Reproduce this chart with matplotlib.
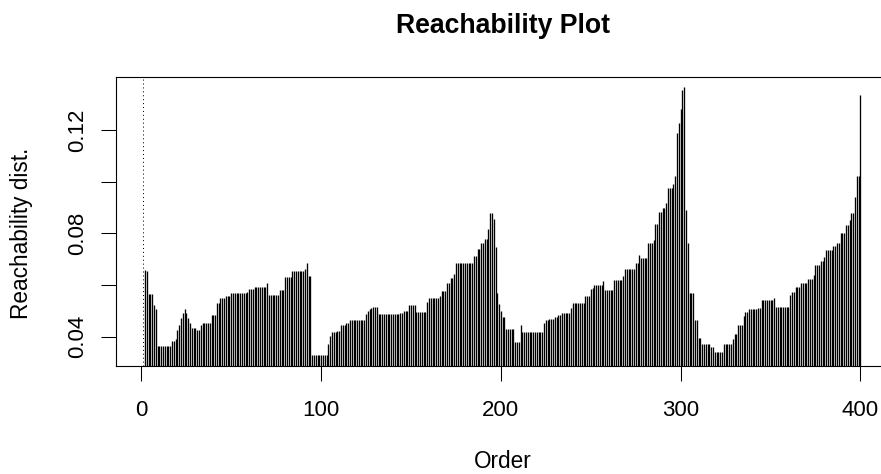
import numpy as np
import matplotlib
matplotlib.use("Agg")
import matplotlib.pyplot as plt

plt.rcParams['font.family'] = ['Liberation Sans', 'DejaVu Sans']

inf = np.inf
# Reachability distances in OPTICS order (index 1..400); first point is undefined (Inf)
reach_001_100 = [
    inf, 0.0660, 0.0655, 0.0567, 0.0567, 0.0567, 0.0524, 0.0506, 0.0364, 0.0364,
    0.0364, 0.0364, 0.0364, 0.0364, 0.0364, 0.0364, 0.0383, 0.0383, 0.0390, 0.0426,
    0.0444, 0.0474, 0.0493, 0.0506, 0.0493, 0.0474, 0.0454, 0.0435, 0.0435, 0.0435,
    0.0425, 0.0425, 0.0444, 0.0454, 0.0454, 0.0454, 0.0454, 0.0454, 0.0483, 0.0483,
    0.0483, 0.0532, 0.0532, 0.0551, 0.0551, 0.0551, 0.0558, 0.0558, 0.0558, 0.0568,
    0.0568, 0.0568, 0.0568, 0.0568, 0.0568, 0.0568, 0.0568, 0.0568, 0.0573, 0.0584,
    0.0584, 0.0584, 0.0592, 0.0592, 0.0592, 0.0592, 0.0592, 0.0592, 0.0592, 0.0607,
    0.0560, 0.0560, 0.0560, 0.0560, 0.0560, 0.0560, 0.0581, 0.0581, 0.0581, 0.0630,
    0.0630, 0.0630, 0.0630, 0.0654, 0.0654, 0.0654, 0.0654, 0.0654, 0.0654, 0.0654,
    0.0663, 0.0684, 0.0635, 0.0635, 0.0328, 0.0328, 0.0328, 0.0328, 0.0328, 0.0328,
]
reach_101_200 = [
    0.0328, 0.0328, 0.0328, 0.0373, 0.0405, 0.0418, 0.0418, 0.0418, 0.0422, 0.0422,
    0.0444, 0.0444, 0.0444, 0.0452, 0.0452, 0.0465, 0.0465, 0.0465, 0.0465, 0.0465,
    0.0465, 0.0465, 0.0465, 0.0465, 0.0487, 0.0499, 0.0506, 0.0512, 0.0516, 0.0516,
    0.0516, 0.0489, 0.0489, 0.0489, 0.0489, 0.0489, 0.0489, 0.0489, 0.0489, 0.0489,
    0.0489, 0.0489, 0.0489, 0.0493, 0.0493, 0.0499, 0.0499, 0.0499, 0.0524, 0.0524,
    0.0524, 0.0524, 0.0496, 0.0496, 0.0496, 0.0496, 0.0496, 0.0496, 0.0534, 0.0551,
    0.0551, 0.0551, 0.0551, 0.0551, 0.0551, 0.0558, 0.0577, 0.0577, 0.0577, 0.0609,
    0.0609, 0.0626, 0.0626, 0.0644, 0.0684, 0.0684, 0.0684, 0.0684, 0.0684, 0.0684,
    0.0684, 0.0684, 0.0684, 0.0684, 0.0712, 0.0712, 0.0738, 0.0738, 0.0761, 0.0761,
    0.0777, 0.0777, 0.0816, 0.0880, 0.0880, 0.0857, 0.0748, 0.0570, 0.0528, 0.0499,
]
reach_201_300 = [
    0.0477, 0.0477, 0.0431, 0.0431, 0.0431, 0.0431, 0.0431, 0.0379, 0.0379, 0.0379,
    0.0444, 0.0418, 0.0418, 0.0418, 0.0418, 0.0418, 0.0418, 0.0418, 0.0418, 0.0418,
    0.0418, 0.0418, 0.0418, 0.0454, 0.0465, 0.0465, 0.0467, 0.0467, 0.0467, 0.0477,
    0.0477, 0.0483, 0.0483, 0.0491, 0.0491, 0.0491, 0.0491, 0.0491, 0.0512, 0.0529,
    0.0529, 0.0529, 0.0529, 0.0529, 0.0529, 0.0529, 0.0558, 0.0558, 0.0558, 0.0584,
    0.0590, 0.0599, 0.0599, 0.0599, 0.0599, 0.0599, 0.0616, 0.0580, 0.0580, 0.0580,
    0.0580, 0.0580, 0.0619, 0.0619, 0.0619, 0.0619, 0.0619, 0.0635, 0.0663, 0.0663,
    0.0663, 0.0663, 0.0663, 0.0663, 0.0686, 0.0686, 0.0715, 0.0705, 0.0705, 0.0705,
    0.0705, 0.0761, 0.0761, 0.0761, 0.0774, 0.0835, 0.0835, 0.0883, 0.0883, 0.0899,
    0.0899, 0.0919, 0.0975, 0.0975, 0.0975, 0.0990, 0.1022, 0.1190, 0.1228, 0.1280,
]
reach_301_400 = [
    0.1355, 0.1367, 0.0891, 0.0764, 0.0570, 0.0570, 0.0570, 0.0465, 0.0465, 0.0394,
    0.0394, 0.0373, 0.0373, 0.0373, 0.0373, 0.0373, 0.0361, 0.0361, 0.0341, 0.0341,
    0.0341, 0.0341, 0.0341, 0.0373, 0.0373, 0.0373, 0.0373, 0.0373, 0.0390, 0.0409,
    0.0409, 0.0444, 0.0444, 0.0444, 0.0480, 0.0496, 0.0496, 0.0506, 0.0506, 0.0506,
    0.0506, 0.0506, 0.0512, 0.0512, 0.0542, 0.0542, 0.0542, 0.0542, 0.0542, 0.0542,
    0.0542, 0.0551, 0.0515, 0.0515, 0.0515, 0.0515, 0.0515, 0.0515, 0.0515, 0.0515,
    0.0561, 0.0573, 0.0573, 0.0592, 0.0592, 0.0592, 0.0607, 0.0607, 0.0607, 0.0607,
    0.0622, 0.0622, 0.0622, 0.0640, 0.0676, 0.0676, 0.0676, 0.0693, 0.0693, 0.0709,
    0.0736, 0.0736, 0.0736, 0.0736, 0.0751, 0.0751, 0.0764, 0.0764, 0.0803, 0.0803,
    0.0803, 0.0831, 0.0831, 0.0852, 0.0878, 0.0878, 0.0940, 0.1022, 0.1022, 0.1335,
]

x_ticks = [0, 100, 200, 300, 400]
y_ticks = [0.04, 0.06, 0.08, 0.10, 0.12]
y_tick_labels = ["0.04", "", "0.08", "", "0.12"]
title = "Reachability Plot"
xlabel = "Order"
ylabel = "Reachability dist."

reach = np.array(reach_001_100 + reach_101_200 + reach_201_300 + reach_301_400)
order = np.arange(1, len(reach) + 1)
finite = np.isfinite(reach)

W, H = 881, 474
fig = plt.figure(figsize=(W / 100, H / 100), dpi=100)
ax_left, ax_right, ax_top, ax_bottom = 116, 889, 77.3, 366
ax = fig.add_axes([ax_left / W, 1 - ax_bottom / H, (ax_right - ax_left) / W, (ax_bottom - ax_top) / H])

ax.vlines(order[finite], 0, reach[finite], colors="black", linewidth=0.95)
for xi in order[~finite]:
    ax.axvline(xi, color="black", linewidth=0.75, linestyle=(0, (0.96, 2.8)))

# x mapping: 0 -> px 141.4, 1.7975 px per unit
px0, ppu = 141.4, 1.7975
ax.set_xlim((ax_left - px0) / ppu, (ax_right - px0) / ppu)
ax.set_ylim(0.0287, 0.1404)

ax.set_xticks(x_ticks)
ax.set_xticklabels([str(t) for t in x_ticks])
ax.set_yticks(y_ticks)
ax.set_yticklabels(y_tick_labels)

for s in ["top", "left", "bottom", "right"]:
    ax.spines[s].set_linewidth(0.8)
    ax.spines[s].set_color("black")

ax.tick_params(axis="both", direction="out", length=10.8, width=0.75, color="black",
               labelsize=16, labelcolor="black")
ax.tick_params(axis="x", pad=13.5)
ax.tick_params(axis="y", pad=9.6)
for lab in ax.get_yticklabels():
    lab.set_rotation(90)
    lab.set_va("center")
    lab.set_ha("right")

fig.text(502.5 / W, 1 - 25.6 / H, title, ha="center", va="center", fontsize=19.2, fontweight="bold")
fig.text(502.5 / W, 1 - 462 / H, xlabel, ha="center", va="center", fontsize=16.3)
fig.text(22 / W, 1 - 233 / H, ylabel, ha="center", va="center", rotation=90, fontsize=16.3)

fig.savefig("out.png", dpi=100)
